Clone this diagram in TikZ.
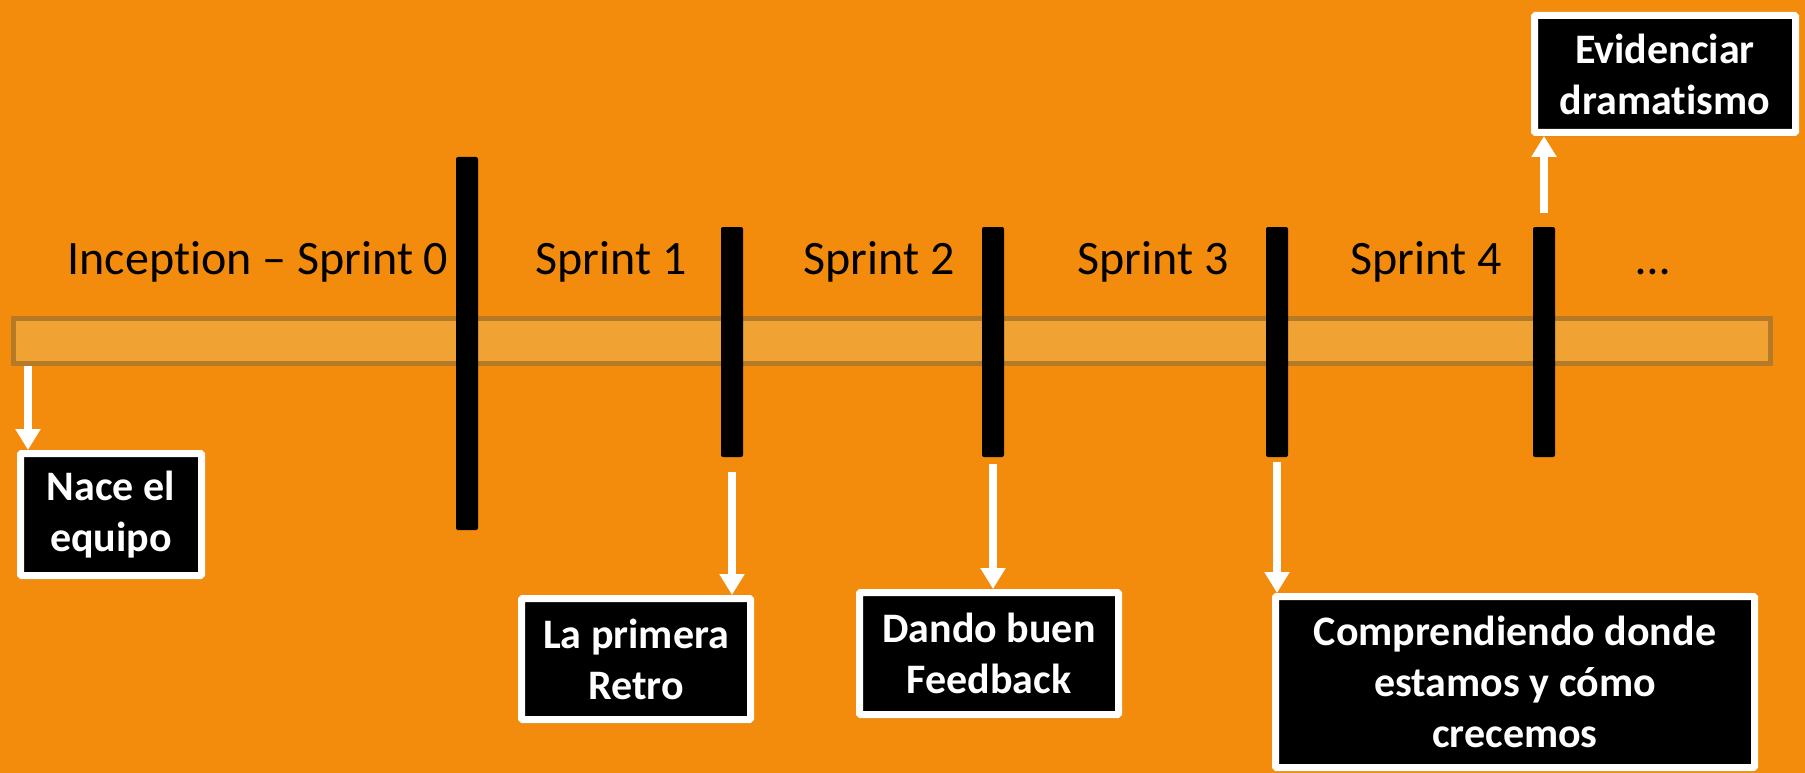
\documentclass[tikz,border=0pt]{standalone}
\usepackage{fontspec}
\setmainfont{Carlito}[Ligatures={NoCommon}]
\usetikzlibrary{arrows.meta,shadows}
\definecolor{fondo}{HTML}{F38B0C}
\definecolor{barra}{HTML}{F0A332}
\definecolor{borde}{HTML}{B47A28}

\begin{document}
\begin{tikzpicture}[x=1pt,y=-1pt,
    hito/.style={fill=black,rounded corners=2pt,minimum width=22pt,inner sep=0pt},
    sprint/.style={anchor=base,font=\fontsize{48}{58}\selectfont},
    caja/.style={draw=white,line width=7pt,fill=black,text=white,align=center,
      rounded corners=1pt,inner sep=0pt,font=\bfseries\fontsize{42}{51}\selectfont,
      drop shadow={shadow xshift=2pt,shadow yshift=-4pt,opacity=0.3}},
    flecha/.style={draw=white,line width=8pt,-{Triangle[length=21pt,width=24pt]}}]
    \fill[fondo] (0,0) rectangle (1805,773);
    \useasboundingbox (0,0) rectangle (1805,773);
    % linea de tiempo
    \node[draw=borde,fill=barra,line width=5pt,minimum width=1757pt,minimum height=45pt] (linea) at (892,341) {};
    \node[hito,minimum height=373pt] (h0) at (467,343.5) {};
    \node[hito,minimum height=230pt] (h1) at (732,342) {};
    \node[hito,minimum height=230pt] (h2) at (993,342) {};
    \node[hito,minimum height=230pt] (h3) at (1277,342) {};
    \node[hito,minimum height=230pt] (h4) at (1544,342) {};
    \node[sprint] (s0) at (258,274) {Inception – Sprint 0};
    \node[sprint] (s1) at (611,274) {Sprint 1};
    \node[sprint] (s2) at (879,274) {Sprint 2};
    \node[sprint] (s3) at (1153,274) {Sprint 3};
    \node[sprint] (s4) at (1426,274) {Sprint 4};
    \node[sprint] (sn) at (1653,274) {…};
    % cajas
    \node[caja,minimum width=181pt,minimum height=122pt] (nace) at (111,514.5) {Nace el\\equipo};
    \node[caja,minimum width=229pt,minimum height=121pt] (retro) at (636,659) {La primera\\Retro};
    \node[caja,minimum width=259pt,minimum height=122pt] (feed) at (989,653.5) {Dando buen\\Feedback};
    \node[caja,minimum width=479pt,minimum height=171pt] (crece) at (1515,682) {Comprendiendo donde\\estamos y cómo\\crecemos};
    \node[caja,minimum width=261pt,minimum height=117pt] (drama) at (1665,74) {Evidenciar\\dramatismo};
    \draw[flecha] ([xshift=11pt]nace.north west |- linea.south) -- ([xshift=11pt]nace.north west);
    \draw[flecha] ([yshift=-15pt]h1.south) -- (h1.south |- retro.north);
    \draw[flecha] ([yshift=-7pt]h2.south) -- (h2.south |- feed.north);
    \draw[flecha] ([yshift=-5pt]h3.south) -- (h3.south |- crece.north);
    \draw[flecha] ([yshift=14pt]h4.north) -- (h4.north |- drama.south);
\end{tikzpicture}
\end{document}
